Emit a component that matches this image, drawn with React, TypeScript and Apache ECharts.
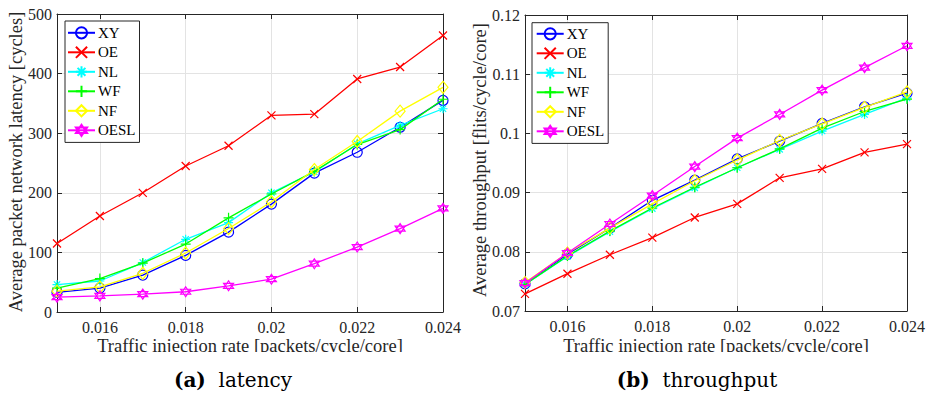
import React, { useEffect, useRef } from "react";
import * as echarts from "echarts";

const rates = [0.015, 0.016, 0.017, 0.018, 0.019, 0.02, 0.021, 0.022, 0.023, 0.024];

const seriesNames = ["XY", "OE", "NL", "WF", "NF", "OESL"];
const seriesColors = ["#0000ff", "#ff0000", "#00ffff", "#00ff00", "#ffff00", "#ff00ff"];

// latency [cycles]
const latXY = [33, 40, 62, 95, 134, 181, 233, 268, 310, 355];
const latOE = [115, 161, 200, 245, 279, 330, 332, 391, 411, 464];
const latNL = [46, 52, 83, 122, 150, 200, 235, 282, 313, 341];
const latWF = [40, 56, 82, 114, 158, 198, 236, 281, 306, 357];
const latNF = [35, 42, 65, 99, 140, 185, 239, 286, 337, 377];
const latOESL = [25, 27, 30, 34, 44, 55, 81, 109, 140, 174];

// throughput [flits/cycle/core]
const thrXY = [0.0746, 0.0796, 0.084, 0.0887, 0.0921, 0.0957, 0.0987, 0.1017, 0.1045, 0.1068];
const thrOE = [0.0729, 0.0763, 0.0795, 0.0824, 0.0858, 0.0881, 0.0925, 0.094, 0.0968, 0.0982];
const thrNL = [0.0745, 0.0792, 0.0834, 0.0873, 0.0908, 0.0942, 0.0973, 0.1004, 0.1032, 0.106];
const thrWF = [0.0745, 0.0793, 0.0835, 0.0874, 0.0909, 0.0942, 0.0974, 0.1009, 0.1037, 0.1058];
const thrNF = [0.0748, 0.0798, 0.084, 0.0881, 0.092, 0.0955, 0.0988, 0.1016, 0.1044, 0.107];
const thrOESL = [0.0747, 0.0798, 0.0847, 0.0895, 0.0944, 0.0992, 0.1032, 0.1073, 0.1111, 0.1148];

const latencyData = [latXY, latOE, latNL, latWF, latNF, latOESL];
const throughputData = [thrXY, thrOE, thrNL, thrWF, thrNF, thrOESL];

const latTicks = { min: 0, max: 500, interval: 100 };
const thrTicks = { min: 0.07, max: 0.12, interval: 0.01 };

const symbols = [
  "path://M5 0A5 5 0 1 1 5 10A5 5 0 1 1 5 0Z",
  "path://M0 0L10 10M10 0L0 10",
  "path://M5 0L5 10M0 5L10 5M1.5 1.5L8.5 8.5M8.5 1.5L1.5 8.5",
  "path://M5 0L5 10M0 5L10 5",
  "path://M5 0L10 5L5 10L0 5Z",
  "path://M5 0L9.33 7.5L0.67 7.5Z M5 10L0.67 2.5L9.33 2.5Z",
];
const symbolSizes: any[] = [10, 8, 9, 10, [10, 12], 10];

const FONT = '"Liberation Serif", "Times New Roman", serif';
const AXC = "#262626";
const GRIDC = "#e3e3e3";
const TITLE_FONT = `18.5px ${FONT}`;

function makeAxesX(gridIndex: number) {
  const base = {
    type: "value",
    gridIndex,
    min: 0.015,
    max: 0.024,
    splitNumber: 5,
    axisLine: { show: true, onZero: false, lineStyle: { color: AXC, width: 1 } },
    axisTick: { show: true, inside: true, length: 5, lineStyle: { color: AXC } },
  };
  return [
    {
      ...base,
      position: "bottom",
      axisLabel: {
        show: true,
        showMinLabel: false,
        margin: 7,
        color: AXC,
        fontFamily: FONT,
        fontSize: 16,
      },
      splitLine: { show: true, lineStyle: { color: GRIDC, width: 1 } },
    },
    {
      ...base,
      position: "top",
      axisLabel: { show: false },
      splitLine: { show: false },
    },
  ];
}

function makeAxesY(gridIndex: number, t: { min: number; max: number; interval: number }) {
  const base = {
    type: "value",
    gridIndex,
    min: t.min,
    max: t.max,
    interval: t.interval,
    axisLine: { show: true, onZero: false, lineStyle: { color: AXC, width: 1 } },
    axisTick: { show: true, inside: true, length: 5, lineStyle: { color: AXC } },
  };
  return [
    {
      ...base,
      position: "left",
      axisLabel: { show: true, margin: 5, color: AXC, fontFamily: FONT, fontSize: 16 },
      splitLine: { show: true, lineStyle: { color: GRIDC, width: 1 } },
    },
    {
      ...base,
      position: "right",
      axisLabel: { show: false },
      splitLine: { show: false },
    },
  ];
}

function makeSeries(data: number[][], xAxisIndex: number, yAxisIndex: number) {
  return seriesNames.map((name, i) => ({
    type: "line",
    name,
    xAxisIndex,
    yAxisIndex,
    data: rates.map((r, k) => [r, data[i][k]]),
    symbol: symbols[i],
    symbolSize: symbolSizes[i],
    showSymbol: true,
    lineStyle: { color: seriesColors[i], width: 1.3 },
    itemStyle: { color: "none", borderColor: seriesColors[i], borderWidth: 1.2 },
    emphasis: { disabled: true },
    z: 2 + i,
  }));
}

function makeLegend(left: number, top: number, padding: number[]) {
  return {
    orient: "vertical",
    left,
    top,
    data: seriesNames,
    itemWidth: 27,
    itemHeight: 14,
    itemGap: 3.3,
    padding,
    backgroundColor: "#ffffff",
    borderColor: AXC,
    borderWidth: 1,
    borderRadius: 0,
    selectedMode: false,
    textStyle: { fontFamily: FONT, fontSize: 15, color: "#000", lineHeight: 14, padding: [0, 0, 0, -2] },
  };
}

function titleText(text: string, x: number, y: number, rotated: boolean) {
  return {
    type: "text",
    x,
    y,
    rotation: rotated ? Math.PI / 2 : 0,
    style: {
      text,
      font: TITLE_FONT,
      fill: AXC,
      textAlign: "center",
      textVerticalAlign: "middle",
    },
    z: 50,
  };
}

function captionText(label: string, text: string, x: number, y: number) {
  return {
    type: "text",
    x,
    y,
    style: {
      text: `{b|${label}}  ${text}`,
      font: '20px "DejaVu Serif", serif',
      fill: "#000",
      textAlign: "center",
      textVerticalAlign: "middle",
      rich: {
        b: { font: 'bold 20px "DejaVu Serif", serif', fill: "#000" },
      },
    },
    z: 50,
  };
}

export default function App() {
  const ref = useRef<HTMLDivElement>(null);
  useEffect(() => {
    if (!ref.current) return;
    const chart = echarts.init(ref.current, null, { renderer: "svg" });
    const [x0, x1] = makeAxesX(0);
    const [x2, x3] = makeAxesX(1);
    const [y0, y1] = makeAxesY(0, latTicks);
    const [y2, y3] = makeAxesY(1, thrTicks);
    const option: any = {
      animation: false,
      backgroundColor: "#ffffff",
      grid: [
        { left: 57, top: 14, width: 386, height: 298, containLabel: false },
        { left: 525, top: 15, width: 382, height: 296, containLabel: false },
      ],
      xAxis: [x0, x1, x2, x3],
      yAxis: [y0, y1, y2, y3],
      legend: [makeLegend(65, 21, [3.7, 4, 4, 2]), makeLegend(532, 22.7, [3, 4, 4, 3.7])],
      series: [...makeSeries(latencyData, 0, 0), ...makeSeries(throughputData, 2, 2)],
      graphic: [
        titleText("Average packet network latency [cycles]", 16, 162, true),
        titleText("Average throughput [flits/cycle/core]", 480, 160, true),
        titleText("Traffic injection rate [packets/cycle/core]", 250, 346, false),
        titleText("Traffic injection rate [packets/cycle/core]", 716, 346, false),
        {
          type: "rect",
          shape: { x: 60, y: 352, width: 840, height: 12 },
          style: { fill: "#ffffff" },
          z: 60,
        },
        captionText("(a)", "latency", 233, 380),
        captionText("(b)", "throughput", 697, 380),
      ],
    };
    chart.setOption(option);
    return () => chart.dispose();
  }, []);
  return (
    <div
      ref={ref}
      style={{ position: "fixed", left: 0, top: 0, width: 930, height: 395, background: "#fff" }}
    />
  );
}
